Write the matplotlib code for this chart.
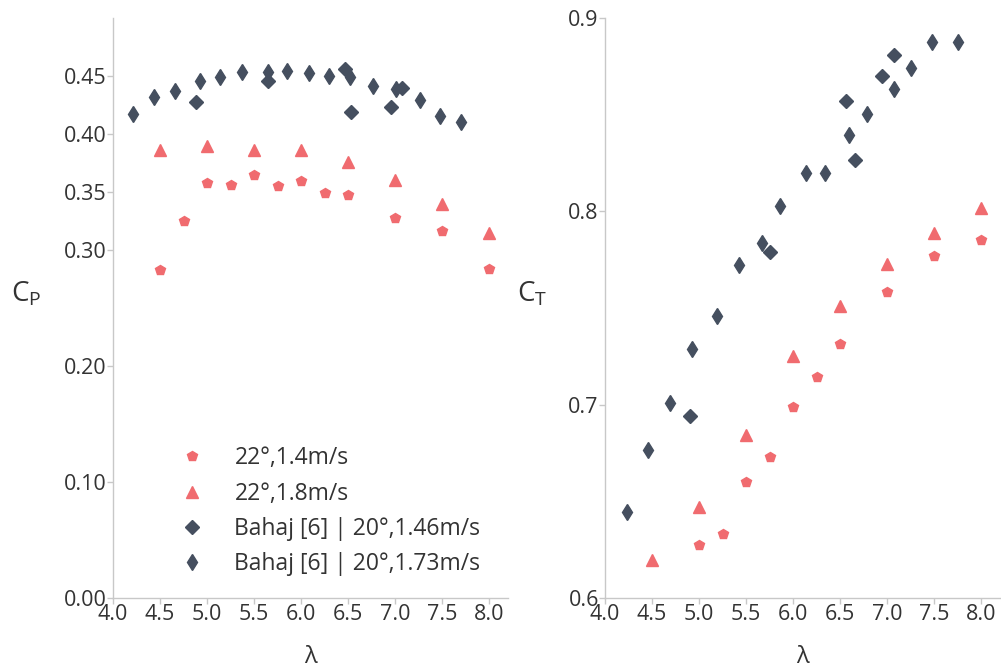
import matplotlib.pyplot as plt

plt.rcParams['font.family'] = ['Open Sans', 'DejaVu Sans']

RED = '#f06b6f'
DARK = '#454f5f'
TXT = '#333333'
SPINE = '#c8c8c8'

# power coefficient, left panel
cp_14_tsr = [4.5, 4.75, 5.0, 5.25, 5.5, 5.75, 6.0, 6.25, 6.5, 7.0, 7.5, 8.0]
cp_14 = [0.283, 0.325, 0.3575, 0.3557, 0.3644, 0.3549, 0.3595, 0.349, 0.3474, 0.3276, 0.316, 0.2834]
cp_18_tsr = [4.5, 5.0, 5.5, 6.0, 6.5, 7.0, 7.5, 8.0]
cp_18 = [0.386, 0.390, 0.386, 0.386, 0.3756, 0.360, 0.3397, 0.3144]
cp_b146_tsr = [4.88, 5.65, 6.47, 6.53, 6.96, 7.07]
cp_b146 = [0.4279, 0.446, 0.456, 0.419, 0.423, 0.4394]
cp_b173_tsr = [4.21, 4.44, 4.66, 4.92, 5.14, 5.37, 5.65, 5.85, 6.08, 6.30, 6.52, 6.76, 7.01, 7.26, 7.48, 7.70]
cp_b173 = [0.417, 0.4316, 0.437, 0.4457, 0.449, 0.4534, 0.4537, 0.4543, 0.4523, 0.450, 0.449, 0.4414,
           0.4385, 0.4293, 0.4155, 0.4106]

# thrust coefficient, right panel
ct_14_tsr = [5.0, 5.25, 5.5, 5.75, 6.0, 6.25, 6.5, 7.0, 7.5, 8.0]
ct_14 = [0.6276, 0.6332, 0.660, 0.673, 0.699, 0.7143, 0.7314, 0.7583, 0.7768, 0.7853]
ct_18_tsr = [4.5, 5.0, 5.5, 6.0, 6.5, 7.0, 7.5, 8.0]
ct_18 = [0.6197, 0.647, 0.6845, 0.7252, 0.751, 0.7727, 0.789, 0.8017]
ct_b146_tsr = [4.905, 5.75, 6.56, 6.66, 6.95, 7.07]
ct_b146 = [0.694, 0.779, 0.857, 0.8266, 0.870, 0.881]
ct_b173_tsr = [4.23, 4.46, 4.69, 4.92, 5.19, 5.42, 5.67, 5.86, 6.14, 6.34, 6.59, 6.79, 7.07, 7.25, 7.48, 7.75]
ct_b173 = [0.6444, 0.6768, 0.7008, 0.729, 0.7458, 0.7725, 0.7834, 0.803, 0.820, 0.820, 0.8397, 0.8506,
           0.8635, 0.8744, 0.8876, 0.8876]

labels = ['22°,1.4m/s', '22°,1.8m/s', 'Bahaj [6] | 20°,1.46m/s', 'Bahaj [6] | 20°,1.73m/s']
cp_ticks = [0.0, 0.1, 0.2, 0.3, 0.35, 0.4, 0.45]
ct_ticks = [0.6, 0.7, 0.8, 0.9]
x_ticks = [4.0, 4.5, 5.0, 5.5, 6.0, 6.5, 7.0, 7.5, 8.0]


def draw_series(ax, series):
    styles = [('p', RED, 7.8), ('^', RED, 8.4), ('D', DARK, 7.6), ('d', DARK, 8.4)]
    for (xs, ys), lab, (m, c, ms) in zip(series, labels, styles):
        ax.plot(xs, ys, ls='none', marker=m, color=c, markersize=ms, label=lab)


def style_axis(ax):
    for side in ['top', 'right']:
        ax.spines[side].set_visible(False)
    for side in ['left', 'bottom']:
        ax.spines[side].set_color(SPINE)
        ax.spines[side].set_linewidth(1)
    ax.tick_params(direction='out', length=4, width=1, color=SPINE, labelcolor=TXT,
                   labelsize=15.5, pad=0.5)
    ax.set_xlim(4.0, 8.2)
    ax.set_xticks(x_ticks)
    ax.set_xticklabels([f'{t:.1f}' for t in x_ticks])
    ax.set_xlabel('λ', fontsize=17, color=TXT, labelpad=14)


fig = plt.figure(figsize=(10.01, 6.67), dpi=100)
ax1 = fig.add_axes([0.1129, 0.1034, 0.3946, 0.8696])
ax2 = fig.add_axes([0.6044, 0.1034, 0.3946, 0.8696])

draw_series(ax1, [(cp_14_tsr, cp_14), (cp_18_tsr, cp_18), (cp_b146_tsr, cp_b146), (cp_b173_tsr, cp_b173)])
style_axis(ax1)
ax1.set_ylim(0, 0.5)
ax1.set_yticks(cp_ticks)
ax1.set_yticklabels([f'{t:.2f}' for t in cp_ticks])
ax1.set_ylabel('C$_\\mathregular{P}$', rotation=0, fontsize=20, color=TXT)
ax1.yaxis.set_label_coords(-0.22, 0.50)
ax1.legend(loc='upper left', bbox_to_anchor=(0.142, 0.262), frameon=False, fontsize=16.5,
           borderpad=0, borderaxespad=0, handletextpad=0.85, labelspacing=0.5,
           labelcolor=TXT)

draw_series(ax2, [(ct_14_tsr, ct_14), (ct_18_tsr, ct_18), (ct_b146_tsr, ct_b146), (ct_b173_tsr, ct_b173)])
style_axis(ax2)
ax2.set_ylim(0.6, 0.9)
ax2.set_yticks(ct_ticks)
ax2.set_yticklabels([f'{t:.1f}' for t in ct_ticks])
ax2.set_ylabel('C$_\\mathregular{T}$', rotation=0, fontsize=20, color=TXT)
ax2.yaxis.set_label_coords(-0.185, 0.50)

fig.savefig('out.png', dpi=100)
